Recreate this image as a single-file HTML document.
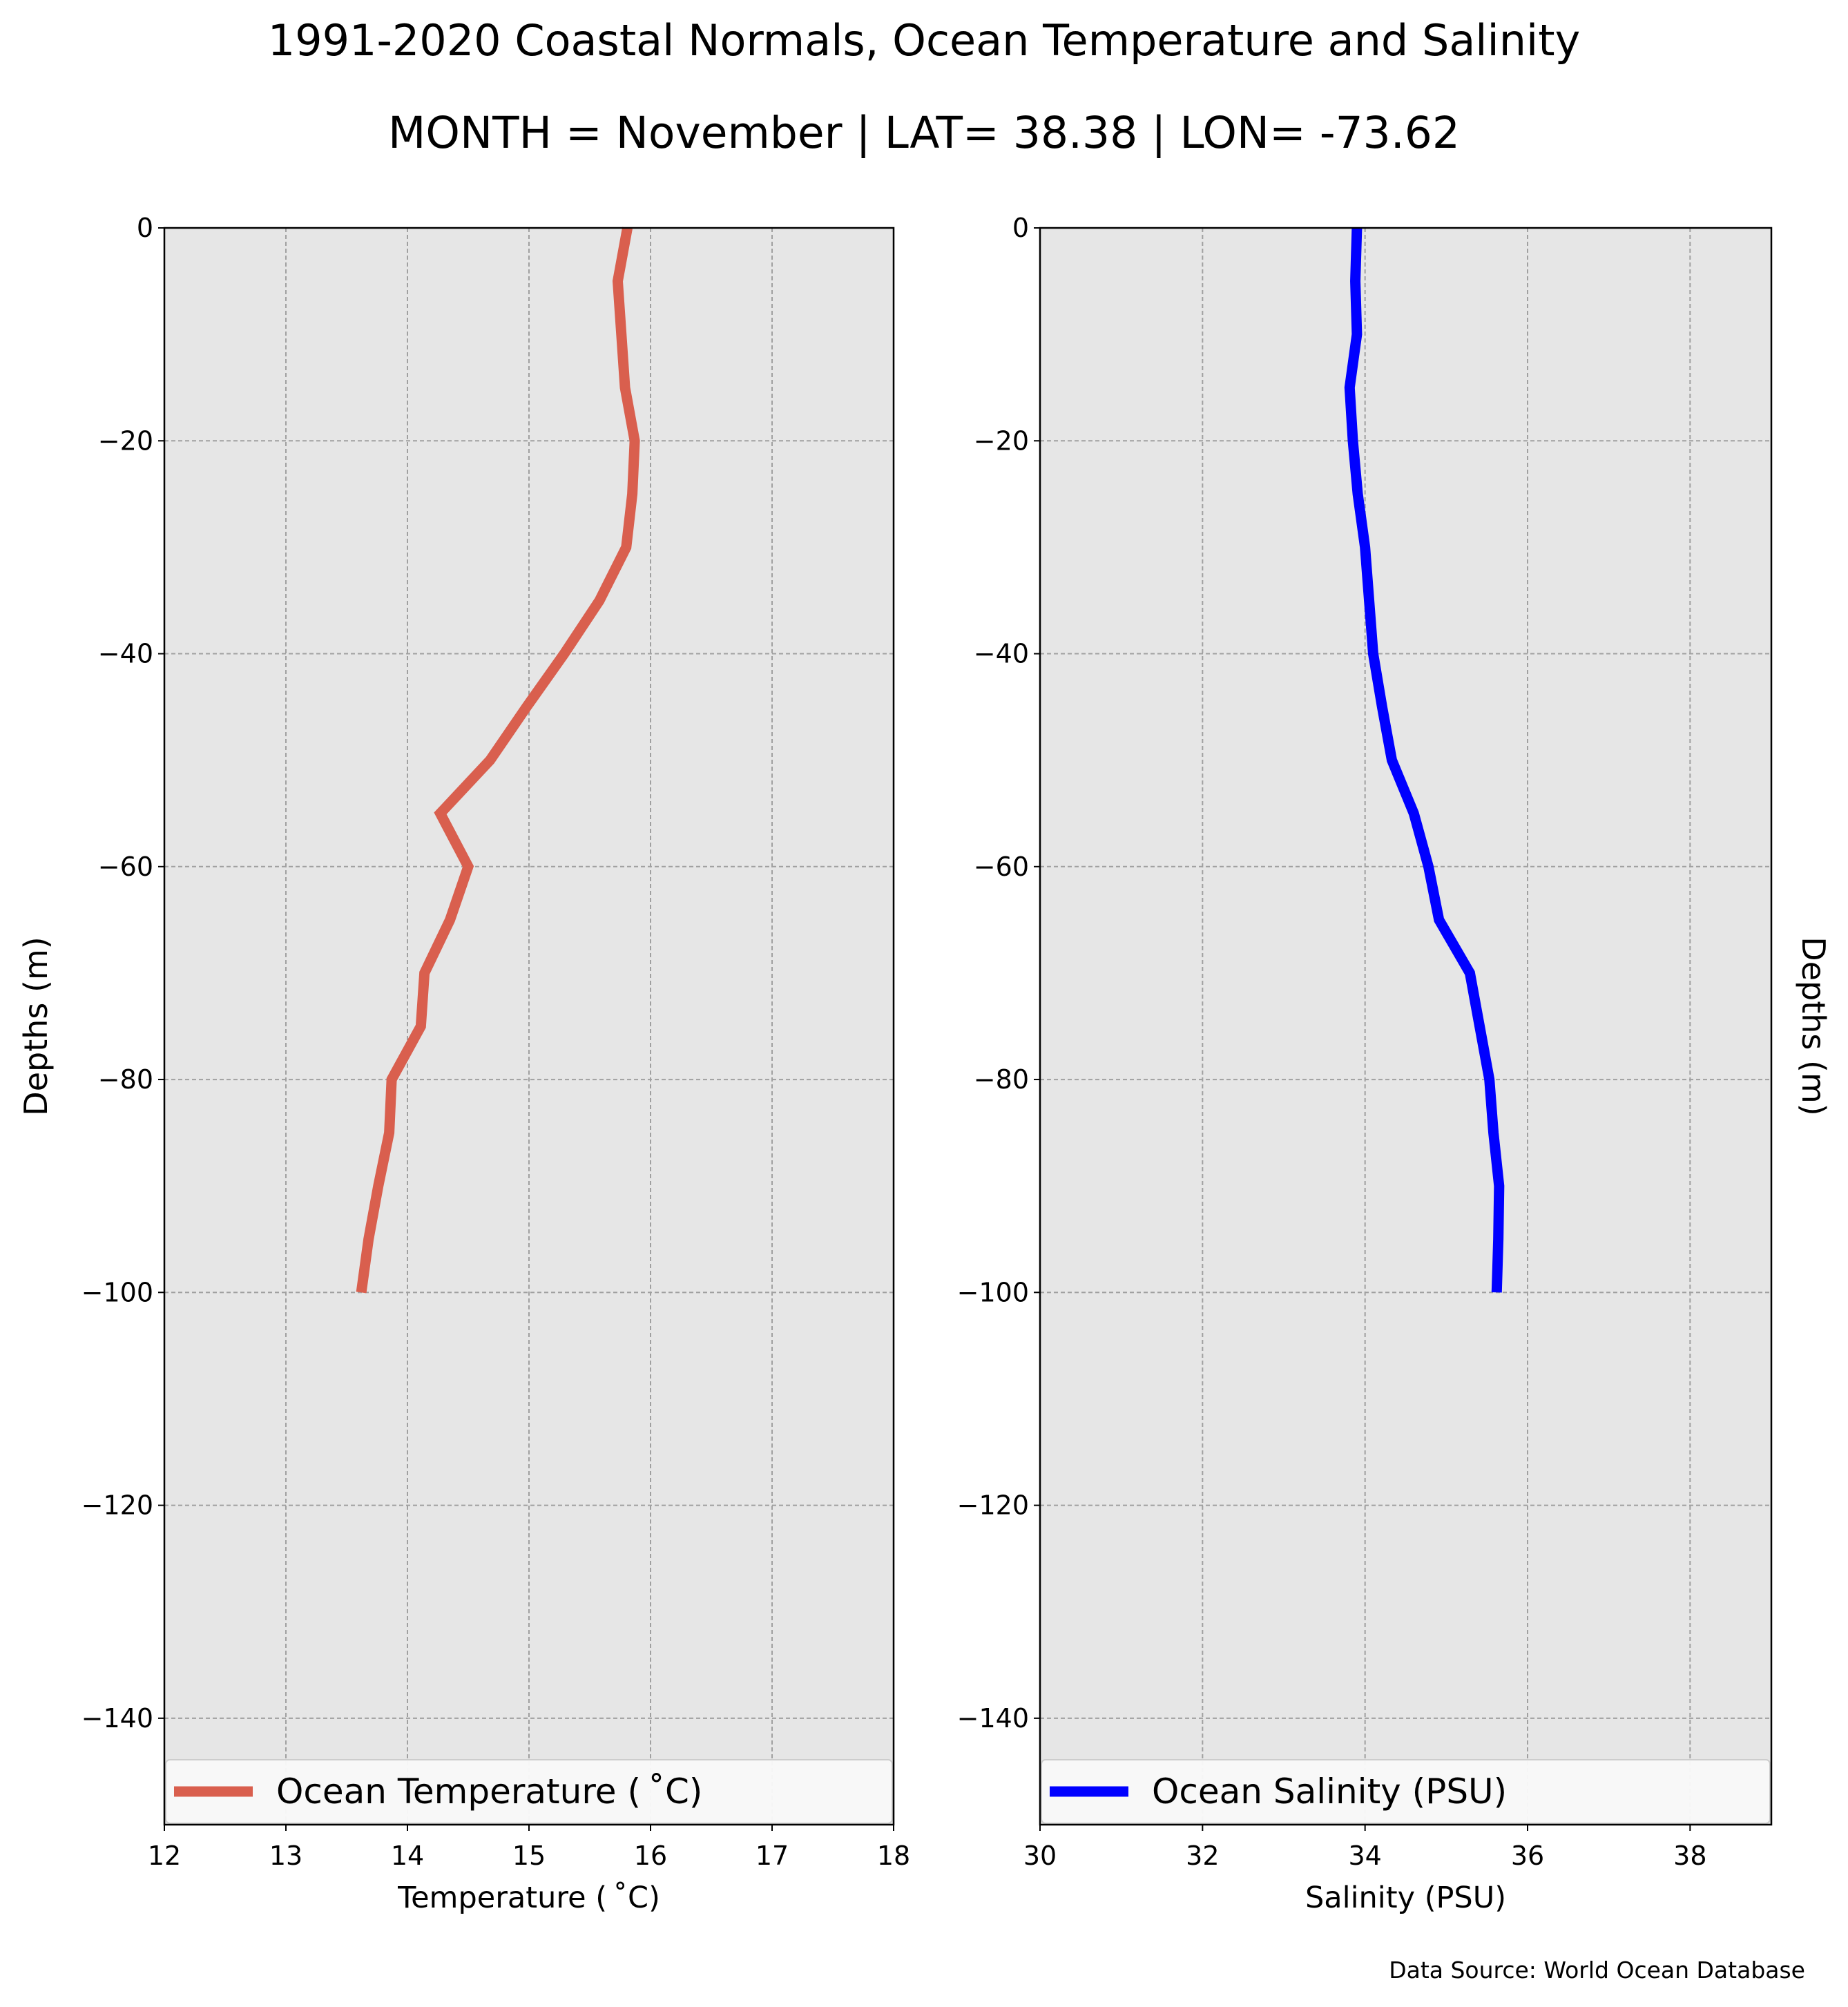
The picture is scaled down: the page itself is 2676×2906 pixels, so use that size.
<!DOCTYPE html>
<html><head><meta charset="utf-8"><style>
body{margin:0;background:#fff;font-family:"Liberation Sans","DejaVu Sans",sans-serif;}
svg text{font-family:"DejaVu Sans","Liberation Sans",sans-serif;}
</style></head><body>
<svg id="chart" width="2676" height="2901" xmlns="http://www.w3.org/2000/svg">
<rect width="2676" height="2901" fill="#fff"/>
<text x="1338" y="80" font-size="62" text-anchor="middle">1991-2020 Coastal Normals, Ocean Temperature and Salinity</text>
<text x="1338" y="214" font-size="63" text-anchor="middle">MONTH = November | LAT= 38.38 | LON= -73.62</text>
<g id="p1"></g><g id="p2"></g>
<text x="2614" y="2864" font-size="33" text-anchor="end">Data Source: World Ocean Database</text>
</svg>
<script>
const depths=[0,-5,-10,-15,-20,-25,-30,-35,-40,-45,-50,-55,-60,-65,-70,-75,-80,-85,-90,-95,-100];
const temperature=[15.81,15.73,15.76,15.79,15.87,15.85,15.8,15.58,15.29,14.98,14.68,14.27,14.5,14.35,14.14,14.11,13.87,13.85,13.76,13.68,13.62];
const salinity=[33.9,33.88,33.9,33.81,33.85,33.91,34.0,34.05,34.1,34.21,34.33,34.6,34.78,34.91,35.29,35.41,35.53,35.58,35.65,35.64,35.62];
const yTicks=[0,-20,-40,-60,-80,-100,-120,-140];
const tempTicks=[12,13,14,15,16,17,18];
const salTicks=[30,32,34,36,38];
const NS='http://www.w3.org/2000/svg';
function mk(p,t,a){const e=document.createElementNS(NS,t);for(const k in a)e.setAttribute(k,a[k]);p.appendChild(e);return e;}
function panel(g,x0,x1,xmin,xmax,xt,vals,color,legend,xlabel,ylabelSide,nm){
 const top=330,bot=2642,ymin=-150,ymax=0;
 const X=v=>x0+(v-xmin)/(xmax-xmin)*(x1-x0);
 const Y=v=>top+(ymax-v)/(ymax-ymin)*(bot-top);
 const bg=mk(g,'rect',{x:x0,y:top,width:x1-x0,height:bot-top,fill:'#e6e6e6'});
 
 
 yTicks.forEach(t=>{
  const l=mk(g,'line',{x1:x0,x2:x1,y1:Y(t),y2:Y(t),stroke:'#a0a0a0','stroke-width':2,'stroke-dasharray':'6,4'});
  
  
  mk(g,'line',{x1:x0-9,x2:x0,y1:Y(t),y2:Y(t),stroke:'#000','stroke-width':2});
  const tx=mk(g,'text',{x:x0-16,y:Y(t)+13,'font-size':38,'text-anchor':'end'});
  tx.textContent=t<0?'\u2212'+(-t):String(t);
  
  
 });
 xt.forEach(t=>{
  const l=mk(g,'line',{x1:X(t),x2:X(t),y1:top,y2:bot,stroke:'#a0a0a0','stroke-width':2,'stroke-dasharray':'6,4'});
  
  
  mk(g,'line',{x1:X(t),x2:X(t),y1:bot,y2:bot+9,stroke:'#000','stroke-width':2});
  const tx=mk(g,'text',{x:X(t),y:2700,'font-size':38,'text-anchor':'middle'});
  tx.textContent=String(t);
  
  
 });
 const pts=vals.map((v,i)=>X(v)+','+Y(depths[i])).join(' ');
 const pl=mk(g,'polyline',{points:pts,fill:'none',stroke:color,'stroke-width':15,'stroke-linejoin':'miter'});
 
 
 const lg=mk(g,'g',{});
 
 
 mk(lg,'rect',{x:x0+2,y:2548,width:x1-x0-4,height:92,rx:6,fill:'#fafafa',stroke:'#cccccc','stroke-width':2,opacity:0.95});
 mk(lg,'line',{x1:x0+14,x2:x0+128,y1:2594,y2:2594,stroke:color,'stroke-width':15});
 const lt=mk(lg,'text',{x:x0+162,y:2611,'font-size':50});
 lt.textContent=legend;
 mk(g,'rect',{x:x0,y:top,width:x1-x0,height:bot-top,fill:'none',stroke:'#000','stroke-width':2.5});
 const xl=mk(g,'text',{x:(x0+x1)/2,y:2762,'font-size':43,'text-anchor':'middle'});
 xl.textContent=xlabel;
 
 
 const yl=mk(g,'text',{'font-size':46,'text-anchor':'middle'});
 yl.textContent='Depths (m)';
 if(ylabelSide==='left'){yl.setAttribute('transform','translate(68,1486) rotate(-90)');}
 else{yl.setAttribute('transform','translate(2610,1486) rotate(90)');}
 
 
}
const g1=document.getElementById('p1');


const g2=document.getElementById('p2');


panel(g1,238,1294,12,18,tempTicks,temperature,'#d95f4e','Ocean Temperature (\u2009\u02DAC)','Temperature (\u2009\u02DAC)','left','temperature');
panel(g2,1506,2565,30,39,salTicks,salinity,'#0000ff','Ocean Salinity (PSU)','Salinity (PSU)','right','salinity');
</script>
</body></html>
